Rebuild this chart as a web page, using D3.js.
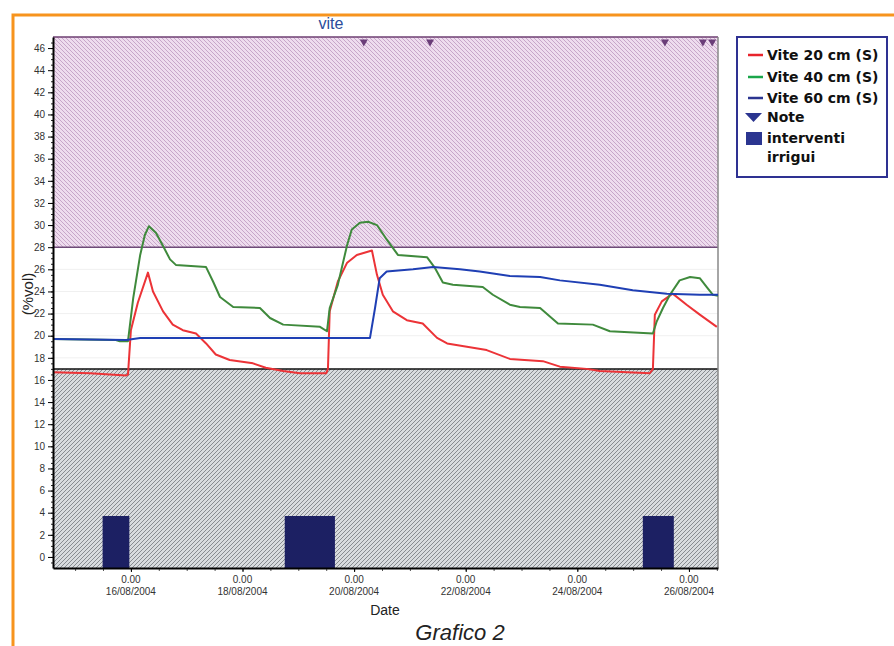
<!DOCTYPE html>
<html>
<head>
<meta charset="utf-8">
<script src="https://cdn.jsdelivr.net/npm/d3@7"></script>
<style>
  body { margin: 0; background: #fff; }
  svg { display: block; }
</style>
</head>
<body>
<div id="chart"></div>
<script>
// Soil moisture readings (%vol)
const vite20 = [
  ["2004-08-14 14:30", 16.7], ["2004-08-15 06:30", 16.6], ["2004-08-15 15:00", 16.5],
  ["2004-08-15 22:00", 16.4], ["2004-08-15 22:45", 16.5], ["2004-08-16 00:00", 20.5],
  ["2004-08-16 03:00", 23.0], ["2004-08-16 07:20", 25.7], ["2004-08-16 09:30", 24.0],
  ["2004-08-16 13:50", 22.2], ["2004-08-16 18:00", 21.0], ["2004-08-16 22:20", 20.5],
  ["2004-08-17 04:00", 20.2], ["2004-08-17 08:20", 19.3], ["2004-08-17 12:30", 18.3],
  ["2004-08-17 18:30", 17.8], ["2004-08-18 04:30", 17.5], ["2004-08-18 10:00", 17.1],
  ["2004-08-18 17:30", 16.8], ["2004-08-19 00:40", 16.6], ["2004-08-19 12:00", 16.6],
  ["2004-08-19 12:45", 17.0], ["2004-08-19 13:30", 22.2], ["2004-08-19 17:00", 24.9],
  ["2004-08-19 21:00", 26.6], ["2004-08-20 01:10", 27.3], ["2004-08-20 07:40", 27.7],
  ["2004-08-20 09:50", 25.5], ["2004-08-20 12:20", 23.7], ["2004-08-20 16:40", 22.2],
  ["2004-08-20 22:40", 21.4], ["2004-08-21 05:30", 21.1], ["2004-08-21 11:40", 19.8],
  ["2004-08-21 16:00", 19.3], ["2004-08-22 00:30", 19.0], ["2004-08-22 09:00", 18.7],
  ["2004-08-22 19:00", 17.9], ["2004-08-23 09:10", 17.7], ["2004-08-23 16:30", 17.2],
  ["2004-08-24 04:00", 17.0], ["2004-08-24 09:40", 16.8], ["2004-08-25 07:10", 16.6],
  ["2004-08-25 08:30", 17.0], ["2004-08-25 09:20", 21.9], ["2004-08-25 12:20", 23.1],
  ["2004-08-25 17:00", 23.8], ["2004-08-25 23:00", 22.8], ["2004-08-26 04:40", 21.9],
  ["2004-08-26 12:00", 20.8]
];

const vite40 = [
  ["2004-08-14 14:30", 19.7], ["2004-08-15 17:30", 19.6], ["2004-08-15 19:15", 19.5],
  ["2004-08-15 22:45", 19.5], ["2004-08-16 01:00", 23.4], ["2004-08-16 04:00", 27.3],
  ["2004-08-16 06:00", 29.1], ["2004-08-16 07:45", 29.9], ["2004-08-16 10:45", 29.3],
  ["2004-08-16 13:50", 28.1], ["2004-08-16 16:50", 26.9], ["2004-08-16 19:20", 26.4],
  ["2004-08-17 08:20", 26.2], ["2004-08-17 11:20", 24.9], ["2004-08-17 14:20", 23.5],
  ["2004-08-17 20:00", 22.6], ["2004-08-18 07:30", 22.5], ["2004-08-18 11:50", 21.6],
  ["2004-08-18 17:30", 21.0], ["2004-08-19 09:20", 20.8], ["2004-08-19 12:20", 20.4],
  ["2004-08-19 13:30", 22.5], ["2004-08-19 17:00", 24.6], ["2004-08-19 21:00", 28.2],
  ["2004-08-19 23:00", 29.6], ["2004-08-20 02:30", 30.2], ["2004-08-20 06:00", 30.3],
  ["2004-08-20 09:50", 30.0], ["2004-08-20 14:00", 28.7], ["2004-08-20 18:50", 27.3],
  ["2004-08-21 07:20", 27.1], ["2004-08-21 10:50", 26.1], ["2004-08-21 14:10", 24.8],
  ["2004-08-21 18:30", 24.6], ["2004-08-22 07:20", 24.4], ["2004-08-22 11:40", 23.7],
  ["2004-08-22 19:00", 22.8], ["2004-08-22 23:20", 22.6], ["2004-08-23 08:00", 22.5],
  ["2004-08-23 15:40", 21.1], ["2004-08-24 06:40", 21.0], ["2004-08-24 14:00", 20.4],
  ["2004-08-25 08:30", 20.2], ["2004-08-25 10:10", 21.3], ["2004-08-25 12:50", 22.5],
  ["2004-08-25 15:50", 23.7], ["2004-08-25 20:00", 25.0], ["2004-08-26 00:30", 25.3],
  ["2004-08-26 04:40", 25.2], ["2004-08-26 07:40", 24.4], ["2004-08-26 10:20", 23.7],
  ["2004-08-26 12:30", 23.6]
];

const vite60 = [
  ["2004-08-14 14:30", 19.7], ["2004-08-15 22:00", 19.6], ["2004-08-16 04:00", 19.8],
  ["2004-08-18 17:30", 19.8], ["2004-08-20 06:50", 19.8], ["2004-08-20 09:00", 22.5],
  ["2004-08-20 11:00", 25.2], ["2004-08-20 14:00", 25.8], ["2004-08-21 01:20", 26.0],
  ["2004-08-21 10:00", 26.2], ["2004-08-21 21:30", 26.0], ["2004-08-22 06:00", 25.8],
  ["2004-08-22 19:00", 25.4], ["2004-08-23 08:00", 25.3], ["2004-08-23 16:30", 25.0],
  ["2004-08-24 09:40", 24.6], ["2004-08-24 23:50", 24.1], ["2004-08-25 14:30", 23.8],
  ["2004-08-26 04:40", 23.7], ["2004-08-26 12:30", 23.7]
];

// irrigation events: start, end, height
const irrigations = [
  ["2004-08-15 11:50", "2004-08-15 23:20", 3.7],
  ["2004-08-18 18:10", "2004-08-19 15:45", 3.7],
  ["2004-08-25 04:10", "2004-08-25 17:30", 3.7]
];

// note markers
const notes = ["2004-08-20 04:10", "2004-08-21 08:40", "2004-08-25 13:40", "2004-08-26 06:00", "2004-08-26 10:00"];

// thresholds: above = saturated band, below = dry band
const upperLimit = 28;
const lowerLimit = 17;

const yTicks = d3.range(0, 47, 2);
const xTickDates = ["2004-08-16", "2004-08-18", "2004-08-20", "2004-08-22", "2004-08-24", "2004-08-26"];
const xTickLabels = ["16/08/2004", "18/08/2004", "20/08/2004", "22/08/2004", "24/08/2004", "26/08/2004"];

const seriesNames = ["Vite 20 cm (S)", "Vite 40 cm (S)", "Vite 60 cm (S)"];
const lineColors = ["#ec3337", "#3f8a3c", "#1f3fb4"];
const legendColors = ["#e8242c", "#1aa64a", "#2b3590"];

const width = 894, height = 646;
const plotL = 53, plotR = 718, plotT = 37, plotB = 568;

const parseT = d3.timeParse("%Y-%m-%d %H:%M");
const parseD = d3.timeParse("%Y-%m-%d");

const svg = d3.select("#chart").append("svg")
  .attr("width", width)
  .attr("height", height);

// patterns for the two bands
const defs = svg.append("defs");
const pTop = defs.append("pattern")
  .attr("id", "hatchTop").attr("patternUnits", "userSpaceOnUse")
  .attr("width", 4).attr("height", 4);
pTop.append("rect").attr("width", 4).attr("height", 4).attr("fill", "#eedcee");
pTop.append("path").attr("d", "M0,0 L4,4 M-1,3 L1,5 M3,-1 L5,1")
  .attr("stroke", "#c7a6c9").attr("stroke-width", 1);

const pBot = defs.append("pattern")
  .attr("id", "hatchBot").attr("patternUnits", "userSpaceOnUse")
  .attr("width", 4).attr("height", 4);
pBot.append("rect").attr("width", 4).attr("height", 4).attr("fill", "#d8dbde");
pBot.append("path").attr("d", "M0,4 L4,0 M-1,1 L1,-1 M3,5 L5,3")
  .attr("stroke", "#878b90").attr("stroke-width", 1);

// orange frame
svg.append("path")
  .attr("d", `M13,${height + 5} L13,15 L${width + 5},15`)
  .attr("fill", "none")
  .attr("stroke", "#f7941d")
  .attr("stroke-width", 3);

const x = d3.scaleTime()
  .domain([parseT("2004-08-14 14:30"), parseT("2004-08-26 12:30")])
  .range([plotL, plotR]);

const y = d3.scaleLinear()
  .domain([-1, 47])
  .range([plotB, plotT]);

// bands
svg.append("rect")
  .attr("x", plotL).attr("y", y(47))
  .attr("width", plotR - plotL).attr("height", y(upperLimit) - y(47))
  .attr("fill", "url(#hatchTop)");

svg.append("rect")
  .attr("x", plotL).attr("y", y(lowerLimit))
  .attr("width", plotR - plotL).attr("height", y(-1) - y(lowerLimit))
  .attr("fill", "url(#hatchBot)");

// faint gridlines in the white band
svg.append("g")
  .selectAll("line")
  .data(yTicks.filter(v => v > lowerLimit && v < upperLimit))
  .enter().append("line")
  .attr("x1", plotL).attr("x2", plotR)
  .attr("y1", d => y(d)).attr("y2", d => y(d))
  .attr("stroke", "#f0f0f0");

// irrigation bars
svg.append("g")
  .selectAll("rect")
  .data(irrigations)
  .enter().append("rect")
  .attr("x", d => x(parseT(d[0])))
  .attr("width", d => x(parseT(d[1])) - x(parseT(d[0])))
  .attr("y", d => y(d[2]))
  .attr("height", d => y(-1) - y(d[2]))
  .attr("fill", "#1c2063");

// threshold lines and frame
svg.append("line")
  .attr("x1", plotL).attr("x2", plotR)
  .attr("y1", y(upperLimit)).attr("y2", y(upperLimit))
  .attr("stroke", "#6e4a78").attr("stroke-width", 1.5);
svg.append("line")
  .attr("x1", plotL).attr("x2", plotR)
  .attr("y1", y(lowerLimit)).attr("y2", y(lowerLimit))
  .attr("stroke", "#111").attr("stroke-width", 1.5);
svg.append("line")
  .attr("x1", plotL).attr("x2", plotR)
  .attr("y1", plotT).attr("y2", plotT)
  .attr("stroke", "#6e3f72").attr("stroke-width", 1.5);
svg.append("line")
  .attr("x1", plotR).attr("x2", plotR)
  .attr("y1", plotT).attr("y2", plotB)
  .attr("stroke", "#888").attr("stroke-width", 1.5);

// series lines
const line = d3.line()
  .x(d => x(parseT(d[0])))
  .y(d => y(d[1]));

[vite20, vite40, vite60].forEach((s, i) => {
  svg.append("path")
    .datum(s)
    .attr("fill", "none")
    .attr("stroke", lineColors[i])
    .attr("stroke-width", 2)
    .attr("stroke-linejoin", "round")
    .attr("d", line);
});

// note markers
svg.append("g")
  .selectAll("path")
  .data(notes)
  .enter().append("path")
  .attr("transform", d => `translate(${x(parseT(d))},${y(46.5)})`)
  .attr("d", "M-4,-3 L4,-3 L0,4 Z")
  .attr("fill", "#6a3d78");

// y axis with minor ticks
svg.append("g")
  .attr("transform", `translate(${plotL},0)`)
  .call(d3.axisLeft(y).tickValues(d3.range(-0.5, 47, 0.5)).tickSize(2).tickFormat("").tickSizeOuter(0))
  .call(g => g.select(".domain").remove())
  .selectAll("line").attr("stroke", "#222");

const yAxis = svg.append("g")
  .attr("transform", `translate(${plotL},0)`)
  .call(d3.axisLeft(y).tickValues(yTicks).tickSize(5).tickSizeOuter(0));
yAxis.select(".domain").attr("stroke", "#000").attr("stroke-width", 2);
yAxis.selectAll("text")
  .attr("font-family", "Liberation Sans, Arial, sans-serif")
  .attr("font-size", 10)
  .attr("fill", "#333");

// x axis
svg.append("g")
  .attr("transform", `translate(0,${plotB})`)
  .call(d3.axisBottom(x).ticks(d3.timeHour.every(12)).tickSize(3).tickFormat("").tickSizeOuter(0))
  .call(g => g.select(".domain").remove())
  .selectAll("line").attr("stroke", "#555");

const xAxis = svg.append("g")
  .attr("transform", `translate(0,${plotB})`)
  .call(d3.axisBottom(x).tickValues(xTickDates.map(parseD)).tickSize(4).tickFormat("").tickSizeOuter(0));
xAxis.select(".domain").attr("stroke", "#000").attr("stroke-width", 2);

const xLab = svg.append("g")
  .selectAll("text")
  .data(xTickDates)
  .enter().append("text")
  .attr("x", d => x(parseD(d)))
  .attr("y", plotB + 15)
  .attr("text-anchor", "middle")
  .attr("font-family", "Liberation Sans, Arial, sans-serif")
  .attr("font-size", 10)
  .attr("fill", "#333");
xLab.append("tspan").attr("x", d => x(parseD(d))).text("0.00");
xLab.append("tspan").attr("x", d => x(parseD(d))).attr("dy", 12).text((d, i) => xTickLabels[i]);

// titles
svg.append("text")
  .attr("x", 331).attr("y", 29)
  .attr("text-anchor", "middle")
  .attr("font-family", "Liberation Sans, Arial, sans-serif")
  .attr("font-size", 16)
  .attr("fill", "#2b4c9b")
  .text("vite");

svg.append("text")
  .attr("transform", "translate(33,294) rotate(-90)")
  .attr("text-anchor", "middle")
  .attr("font-family", "Liberation Sans, Arial, sans-serif")
  .attr("font-size", 15)
  .attr("fill", "#222")
  .text("(%vol)");

svg.append("text")
  .attr("x", 385).attr("y", 615)
  .attr("text-anchor", "middle")
  .attr("font-family", "Liberation Sans, Arial, sans-serif")
  .attr("font-size", 14)
  .attr("fill", "#222")
  .text("Date");

svg.append("text")
  .attr("x", 460).attr("y", 640)
  .attr("text-anchor", "middle")
  .attr("font-family", "Liberation Sans, Arial, sans-serif")
  .attr("font-style", "italic")
  .attr("font-size", 22)
  .attr("fill", "#222")
  .text("Grafico 2");

// legend
const legend = svg.append("g");
legend.append("rect")
  .attr("x", 737).attr("y", 37)
  .attr("width", 150).attr("height", 140)
  .attr("fill", "#fff")
  .attr("stroke", "#2e3192")
  .attr("stroke-width", 2);

const legFont = "DejaVu Sans, Verdana, sans-serif";
const rowY = [55, 77, 98];
seriesNames.forEach((name, i) => {
  legend.append("line")
    .attr("x1", 748).attr("x2", 763)
    .attr("y1", rowY[i]).attr("y2", rowY[i])
    .attr("stroke", legendColors[i]).attr("stroke-width", 2.5);
  legend.append("text")
    .attr("x", 767).attr("y", rowY[i] + 5)
    .attr("font-family", legFont).attr("font-weight", "bold").attr("font-size", 14)
    .attr("fill", "#111")
    .text(name);
});
legend.append("path")
  .attr("d", "M745,113 L762,113 L753.5,122 Z")
  .attr("fill", "#2b3590");
legend.append("text")
  .attr("x", 767).attr("y", 122)
  .attr("font-family", legFont).attr("font-weight", "bold").attr("font-size", 14)
  .attr("fill", "#111").text("Note");
legend.append("rect")
  .attr("x", 746).attr("y", 132)
  .attr("width", 16).attr("height", 13)
  .attr("fill", "#2b3590");
legend.append("text")
  .attr("x", 767).attr("y", 143)
  .attr("font-family", legFont).attr("font-weight", "bold").attr("font-size", 14)
  .attr("fill", "#111").text("interventi");
legend.append("text")
  .attr("x", 767).attr("y", 162)
  .attr("font-family", legFont).attr("font-weight", "bold").attr("font-size", 14)
  .attr("fill", "#111").text("irrigui");
</script>
</body>
</html>
